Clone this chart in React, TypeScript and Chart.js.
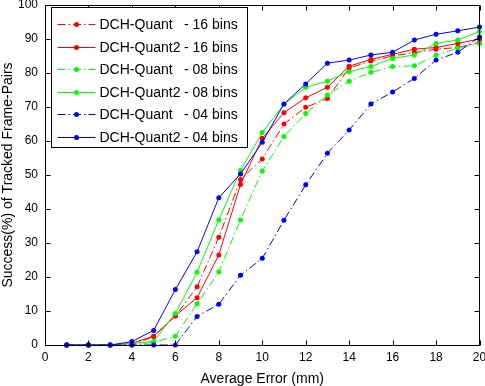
import React, { useEffect, useRef } from "react";
import { Chart, registerables } from "chart.js";

Chart.register(...registerables);

// ---- data ----
const xValues = [1, 2, 3, 4, 5, 6, 7, 8, 9, 10, 11, 12, 13, 14, 15, 16, 17, 18, 19, 20];
const quant16 = [0, 0, 0, 0, 2.5, 8.5, 17.1, 31.7, 48.7, 54.7, 65, 69.9, 72.5, 81.5, 83.5, 85, 86, 87, 87.5, 89];
const quant2_16 = [0, 0, 0, 0.5, 2.6, 8.6, 13.9, 26.5, 47.2, 60.8, 68.3, 72.7, 75.8, 82, 84, 85.5, 87, 87.5, 88.7, 90];
const quant08 = [0, 0, 0, 0, 0.8, 2.6, 12.1, 21.5, 36.8, 51.2, 61.3, 68.1, 73.5, 77.6, 80.2, 81.9, 82.1, 85.3, 87.3, 88.7];
const quant2_08 = [0, 0, 0, 0.5, 1.0, 9.3, 21.4, 36.8, 51.3, 62.5, 70.8, 75.8, 77.6, 80.4, 81.9, 84.3, 85.3, 88.7, 89.7, 92.2];
const quant04 = [0, 0, 0, 0, 0, 0, 8.4, 12, 20.5, 25.5, 36.7, 47.1, 56.4, 63.2, 70.9, 74.4, 78.4, 83.8, 86.1, 90.6];
const quant2_04 = [0, 0, 0, 1, 4.3, 16.3, 27.4, 43.3, 50.3, 59.6, 70.9, 76.8, 82.9, 83.8, 85.3, 86.1, 89.7, 91.4, 92.4, 93.5];

const xTicks = [0, 2, 4, 6, 8, 10, 12, 14, 16, 18, 20];
const yTicks = [0, 10, 20, 30, 40, 50, 60, 70, 80, 90, 100];

const methodNames = ["DCH-Quant", "DCH-Quant2", "DCH-Quant", "DCH-Quant2", "DCH-Quant", "DCH-Quant2"];
const binLabels = ["- 16 bins", "- 16 bins", "- 08 bins", "- 08 bins", "- 04 bins", "- 04 bins"];
const seriesValues = [quant16, quant2_16, quant08, quant2_08, quant04, quant2_04];
const seriesColors = ["#ff0000", "#ff0000", "#00ff00", "#00ff00", "#0000ff", "#0000ff"];
const seriesDashed = [true, false, true, false, true, false];

const XTITLE = "Average Error (mm)";
const YTITLE = "Success(%) of Tracked Frame-Pairs";
const FONT = "'Liberation Sans', Arial, sans-serif";
const DASHDOT = [8, 3, 1.5, 3];

const frameAndLegend = {
  id: "frameAndLegend",
  afterDraw(chart: any) {
    const ctx = chart.ctx as CanvasRenderingContext2D;
    const area = chart.chartArea;
    const xs = chart.scales.x;
    const ys = chart.scales.y;
    const L = Math.round(area.left) + 0.5;
    const R = Math.round(area.right) - 0.5;
    const T = Math.round(area.top) + 0.5;
    const B = Math.round(area.bottom) + 0.5;
    ctx.save();
    ctx.strokeStyle = "#000";
    ctx.lineWidth = 1;
    ctx.setLineDash([]);
    ctx.strokeRect(L, T, R - L, B - T);
    const tl = 5;
    ctx.beginPath();
    xTicks.forEach((v) => {
      const px = Math.round(xs.getPixelForValue(v)) + 0.5;
      ctx.moveTo(px, B);
      ctx.lineTo(px, B - tl);
      ctx.moveTo(px, T);
      ctx.lineTo(px, T + tl);
    });
    yTicks.forEach((v) => {
      const py = Math.round(ys.getPixelForValue(v)) + 0.5;
      ctx.moveTo(L, py);
      ctx.lineTo(L + tl, py);
      ctx.moveTo(R, py);
      ctx.lineTo(R - tl, py);
    });
    ctx.stroke();

    // legend box
    const bx = L + 6;
    const by = T + 2;
    const bw = 196;
    const bh = 140;
    ctx.fillStyle = "#fff";
    ctx.fillRect(bx, by, bw, bh);
    ctx.strokeRect(bx, by, bw, bh);
    ctx.font = `14px ${FONT}`;
    ctx.textBaseline = "middle";
    ctx.textAlign = "left";
    methodNames.forEach((name, i) => {
      const y = Math.round(by + 16.5 + i * 22.5) + 0.5;
      ctx.strokeStyle = seriesColors[i];
      ctx.setLineDash(seriesDashed[i] ? DASHDOT : []);
      ctx.beginPath();
      ctx.moveTo(bx + 6, y);
      ctx.lineTo(bx + 44, y);
      ctx.stroke();
      ctx.setLineDash([]);
      ctx.fillStyle = seriesColors[i];
      ctx.beginPath();
      ctx.arc(bx + 25, y, 2.5, 0, Math.PI * 2);
      ctx.fill();
      ctx.fillStyle = "#000";
      ctx.fillText(name, bx + 48, y + 0.5);
      ctx.fillText(binLabels[i], bx + 132.5, y + 0.5);
    });
    ctx.restore();
  },
};

export default function App() {
  const ref = useRef<HTMLCanvasElement | null>(null);

  useEffect(() => {
    document.body.style.margin = "0";
    const canvas = ref.current;
    if (!canvas) return;
    const chart = new Chart(canvas, {
      type: "line",
      data: {
        datasets: seriesValues.map((vals, i) => ({
          label: `${methodNames[i]} ${binLabels[i]}`,
          data: xValues.map((x, j) => ({ x, y: vals[j] })),
          borderColor: seriesColors[i],
          backgroundColor: seriesColors[i],
          borderWidth: 1,
          borderDash: seriesDashed[i] ? DASHDOT : [],
          pointRadius: 2.5,
          pointBorderWidth: 0,
          pointStyle: "circle",
          pointBackgroundColor: seriesColors[i],
          tension: 0,
          fill: false,
          clip: false as any,
          order: 6 - i,
        })),
      },
      options: {
        responsive: false,
        animation: false,
        events: [],
        layout: { padding: { top: 5, right: 5.5, left: 0, bottom: 0 } },
        plugins: {
          legend: { display: false },
          tooltip: { enabled: false },
        },
        scales: {
          x: {
            type: "linear",
            min: 0,
            max: 20,
            afterBuildTicks: (scale: any) => {
              scale.ticks = xTicks.map((v) => ({ value: v }));
            },
            afterFit: (scale: any) => {
              scale.height = 41;
              scale.paddingLeft = 0;
              scale.paddingRight = 0;
            },
            grid: { display: false, drawTicks: false },
            border: { display: false },
            ticks: {
              color: "#000",
              padding: 5,
              maxRotation: 0,
              autoSkip: false,
              font: { family: FONT, size: 12 },
            },
            title: {
              display: true,
              text: XTITLE,
              color: "#000",
              font: { family: FONT, size: 14, lineHeight: 1 },
              padding: { top: 0, bottom: 0 },
            },
          },
          y: {
            type: "linear",
            min: 0,
            max: 100,
            afterBuildTicks: (scale: any) => {
              scale.ticks = yTicks.map((v) => ({ value: v }));
            },
            afterFit: (scale: any) => {
              scale.width = 45;
              scale.paddingTop = 0;
              scale.paddingBottom = 0;
            },
            grid: { display: false, drawTicks: false },
            border: { display: false },
            ticks: {
              color: "#000",
              padding: 7,
              autoSkip: false,
              font: { family: FONT, size: 12 },
            },
            title: {
              display: true,
              text: YTITLE,
              color: "#000",
              font: { family: FONT, size: 14, lineHeight: 1 },
              padding: { top: 1.5, bottom: 0 },
            },
          },
        },
      },
      plugins: [frameAndLegend],
    });
    return () => chart.destroy();
  }, []);

  return (
    <div style={{ width: 485, height: 386, background: "#fff" }}>
      <canvas ref={ref} width={485} height={386} style={{ display: "block" }} />
    </div>
  );
}
